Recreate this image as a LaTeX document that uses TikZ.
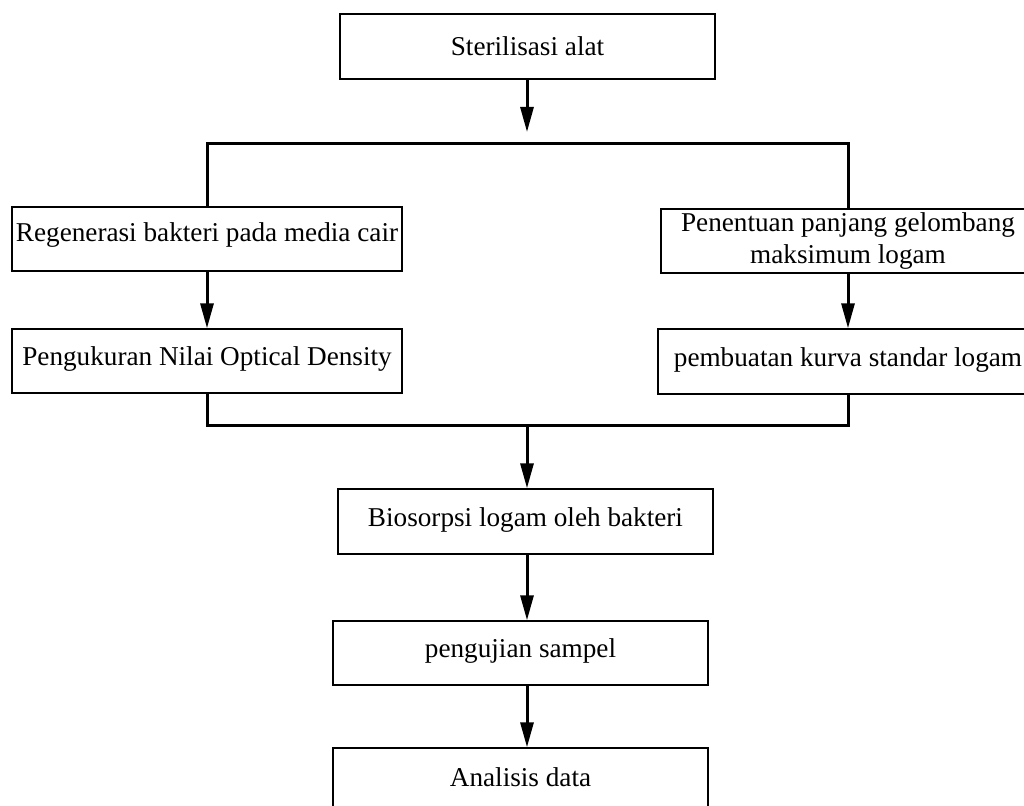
\documentclass[tikz,border=0pt]{standalone}
\usepackage{fontspec}
\setmainfont{Liberation Serif}
\usetikzlibrary{positioning,calc,arrows.meta}

\begin{document}
\begin{tikzpicture}[x=0.5pt,y=-0.5pt,
	box/.style={rectangle,draw,line width=0.7pt,inner sep=0pt,align=center,font=\fontsize{13.6}{16.3}\selectfont},
	flow/.style={-{Triangle[length=12.5pt,width=6.5pt]},line width=1.5pt},
	link/.style={line width=1.5pt}]
	\useasboundingbox (0,0) rectangle (1024,806);
	\clip (0,0) rectangle (1024,806);
	\node [box,minimum width=187.5pt,minimum height=32.5pt] (ster) at (527.5,46.5) {Sterilisasi alat};
	\node [box,minimum width=195pt,minimum height=32pt,text depth=7pt] (regen) at (207,239) {Regenerasi bakteri pada media cair};
	\node [box,minimum width=195pt,minimum height=32pt,text depth=4.5pt] (ukur) at (207,361) {Pengukuran Nilai Optical Density};
	\node [box,minimum width=187pt,minimum height=32pt] (tentu) at (848,241) {Penentuan panjang gelombang\\maksimum logam};
	\node [box,minimum width=190pt,minimum height=32.5pt,text depth=4.5pt] (kurva) at (848,361.5) {pembuatan kurva standar logam};
	\node [box,minimum width=187.5pt,minimum height=32.5pt,text depth=4.5pt] (bio) at (525.5,521.5) {Biosorpsi logam oleh bakteri};
	\node [box,minimum width=187.5pt,minimum height=32pt,text depth=4.5pt] (uji) at (520.5,653) {pengujian sampel};
	\node [box,minimum width=187.5pt,minimum height=32.5pt,text depth=3.5pt] (anal) at (520.5,780.5) {Analisis data};
	\coordinate (tip) at (527,132);
	\coordinate (split) at (527,144);
	\coordinate (join) at (527,426);
	\draw[flow] (ster.south -| tip) -- (tip);
	\draw[link] (regen.north) |- (split) -| (tentu.north);
	\draw[flow] (regen) -- (ukur);
	\draw[flow] (tentu) -- (kurva);
	\draw[link] (ukur.south) |- (join) -| (kurva.south);
	\draw[flow] (join) -- (join |- bio.north);
	\draw[flow] (bio.south -| join) -- (join |- uji.north);
	\draw[flow] (uji.south -| join) -- (join |- anal.north);
\end{tikzpicture}
\end{document}
